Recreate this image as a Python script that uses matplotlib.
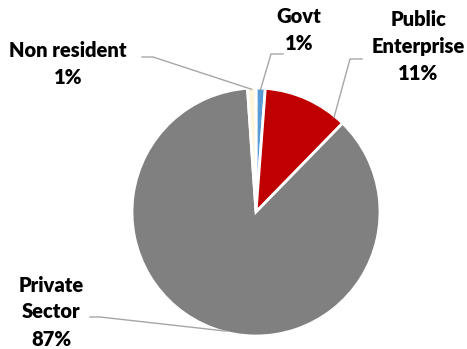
import matplotlib
matplotlib.use("Agg")
import matplotlib.pyplot as plt
import numpy as np

categories = ["Govt", "Public\nEnterprise", "Private\nSector", "Non resident"]
values = [1.2, 11.1, 86.6, 1.1]
pct_labels = ["1%", "11%", "87%", "1%"]
colors = ["#5B9BD5", "#C00000", "#808080", "#FFF6DC"]

W, H = 467, 349
fig = plt.figure(figsize=(W / 100, H / 100), dpi=100)

cx, cy, r = 256, 212, 124  # pixel, from top
ax = fig.add_axes([(cx - r) / W, (H - cy - r) / H, 2 * r / W, 2 * r / H])
wedges, _ = ax.pie(values, colors=colors, startangle=90, counterclock=False,
                   radius=1, wedgeprops=dict(edgecolor="white", linewidth=2.0))
ax.set_xlim(-1, 1)
ax.set_ylim(-1, 1)
ax.set_aspect("equal")
ax.axis("off")

def fpx(x, y):
    return (x / W, 1 - y / H)

# label centers (pixels from top-left) and leader elbows
label_pos = [(299, 30), (418, 46), (51, 312), (68, 64)]
elbows = [[(271, 54), (283, 54)],
          [(350, 59), (362, 59)],
          [(100, 317), (90, 317)],
          [(153, 57), (142, 57)]]
anchor_frac = [0.5, 0.12, 0.52, 0.5]

for i, w in enumerate(wedges):
    t1, t2 = np.deg2rad(w.theta1), np.deg2rad(w.theta2)
    th = t1 + (t2 - t1) * anchor_frac[i]
    disp = ax.transData.transform((np.cos(th) * 0.99, np.sin(th) * 0.99))
    a = fig.transFigure.inverted().transform(disp)
    pts = [tuple(a)] + [fpx(*p) for p in elbows[i]]
    xs, ys = zip(*pts)
    fig.add_artist(plt.Line2D(xs, ys, transform=fig.transFigure,
                              color="#A6A6A6", linewidth=1.0))
    lx, ly = fpx(*label_pos[i])
    fig.text(lx, ly, categories[i] + "\n" + pct_labels[i], ha="center", va="center",
             fontsize=14.5, fontweight="heavy", family="Lato", color="black",
             linespacing=1.5)

fig.savefig("out.png", dpi=100)
